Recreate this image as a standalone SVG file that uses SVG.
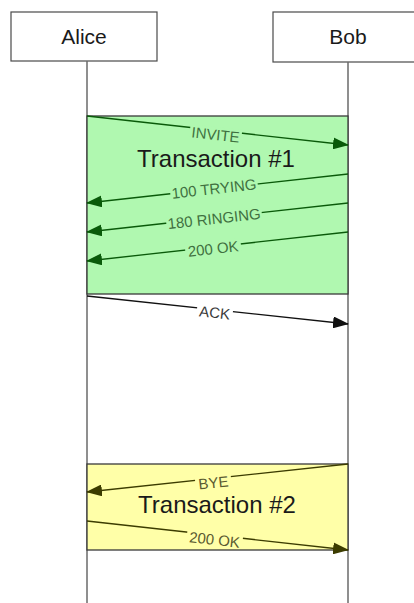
<svg xmlns="http://www.w3.org/2000/svg" width="414" height="603" viewBox="0 0 414 603">
  <style>
    .actor { fill: #ffffff; stroke: #4a4a4a; stroke-width: 1.2; }
    .actor-text { font-family: "Liberation Sans", Arial, sans-serif; font-size: 21px; fill: #1a1a1a; text-anchor: middle; }
    .lifeline { stroke: #6a6a6a; stroke-width: 1.5; fill: none; }
    .txn-box { stroke: #3a3a3a; stroke-width: 1.3; }
    .txn1 { fill: #b0f8b0; }
    .txn2 { fill: #ffffa8; }
    .txn-text { font-family: "Liberation Sans", Arial, sans-serif; font-size: 24px; fill: #1a1a1a; text-anchor: middle; }
    .msg { fill: none; stroke-width: 1.3; }
    .msg-green { stroke: #0a5a0a; }
    .msg-olive { stroke: #3c3c00; }
    .msg-black { stroke: #111111; }
    .label { font-family: "Liberation Sans", Arial, sans-serif; font-size: 15px; text-anchor: middle; }
    .label-green { fill: #3f703f; }
    .label-olive { fill: #5a5a30; }
    .label-black { fill: #3a3a3a; }
  </style>
  <defs>
    <marker id="arrow-green" markerUnits="userSpaceOnUse" markerWidth="16" markerHeight="12" refX="15" refY="6" orient="auto">
      <path d="M0,0 L16,6 L0,12 Z" fill="#0a5a0a"/>
    </marker>
    <marker id="arrow-olive" markerUnits="userSpaceOnUse" markerWidth="16" markerHeight="12" refX="15" refY="6" orient="auto">
      <path d="M0,0 L16,6 L0,12 Z" fill="#3c3c00"/>
    </marker>
    <marker id="arrow-black" markerUnits="userSpaceOnUse" markerWidth="16" markerHeight="12" refX="15" refY="6" orient="auto">
      <path d="M0,0 L16,6 L0,12 Z" fill="#111111"/>
    </marker>
  </defs>

  <rect x="0" y="0" width="414" height="603" fill="#ffffff"/>

  <!-- Participants with their lifelines -->
  <g id="alice">
    <rect class="actor" x="11" y="12" width="146" height="49"/>
    <text class="actor-text" x="84" y="44">Alice</text>
    <line class="lifeline" x1="87" y1="61" x2="87" y2="603"/>
  </g>
  <g id="bob">
    <rect class="actor" x="273" y="12" width="150" height="50"/>
    <text class="actor-text" x="348" y="44">Bob</text>
    <line class="lifeline" x1="348" y1="62" x2="348" y2="603"/>
  </g>

  <!-- Transaction regions -->
  <g id="transaction1">
    <rect class="txn-box txn1" x="87" y="116" width="261" height="178"/>
    <text class="txn-text" x="216" y="167">Transaction #1</text>
  </g>
  <g id="transaction2">
    <rect class="txn-box txn2" x="87" y="464" width="261" height="86"/>
    <text class="txn-text" x="217" y="513">Transaction #2</text>
  </g>

  <!-- Messages -->
  <g id="connectors">
    <g id="msg-invite">
      <line class="msg msg-green" x1="87" y1="116" x2="348" y2="145" marker-end="url(#arrow-green)"/>
      <g transform="translate(216,131) rotate(6.3)">
        <rect x="-26" y="-4" width="52" height="12" fill="#b0f8b0"/>
        <text class="label label-green" x="0" y="9">INVITE</text>
      </g>
    </g>
    <g id="msg-100-trying">
      <line class="msg msg-green" x1="348" y1="174" x2="87" y2="203" marker-end="url(#arrow-green)"/>
      <g transform="translate(214,189) rotate(-6.3)">
        <rect x="-44" y="-6" width="88" height="12" fill="#b0f8b0"/>
        <text class="label label-green" x="0" y="5">100 TRYING</text>
      </g>
    </g>
    <g id="msg-180-ringing">
      <line class="msg msg-green" x1="348" y1="203" x2="87" y2="232" marker-end="url(#arrow-green)"/>
      <g transform="translate(214,218) rotate(-6.3)">
        <rect x="-48" y="-6" width="96" height="12" fill="#b0f8b0"/>
        <text class="label label-green" x="0" y="6">180 RINGING</text>
      </g>
    </g>
    <g id="msg-200-ok-1">
      <line class="msg msg-green" x1="348" y1="232" x2="87" y2="261" marker-end="url(#arrow-green)"/>
      <g transform="translate(213,247) rotate(-6.3)">
        <rect x="-28" y="-6" width="56" height="12" fill="#b0f8b0"/>
        <text class="label label-green" x="0" y="7">200 OK</text>
      </g>
    </g>
    <g id="msg-ack">
      <line class="msg msg-black" x1="87" y1="296" x2="348" y2="324" marker-end="url(#arrow-black)"/>
      <g transform="translate(215,310) rotate(6.3)">
        <rect x="-18" y="-5" width="36" height="12" fill="#ffffff"/>
        <text class="label label-black" x="0" y="8">ACK</text>
      </g>
    </g>
    <g id="msg-bye">
      <line class="msg msg-olive" x1="348" y1="464" x2="87" y2="492" marker-end="url(#arrow-olive)"/>
      <g transform="translate(213,479) rotate(-6.3)">
        <rect x="-18" y="-5" width="36" height="12" fill="#ffffa8"/>
        <text class="label label-olive" x="0" y="9">BYE</text>
      </g>
    </g>
    <g id="msg-200-ok-2">
      <line class="msg msg-olive" x1="87" y1="521" x2="348" y2="550" marker-end="url(#arrow-olive)"/>
      <g transform="translate(215,536) rotate(6.3)">
        <rect x="-28" y="-5" width="56" height="12" fill="#ffffa8"/>
        <text class="label label-olive" x="0" y="9">200 OK</text>
      </g>
    </g>
  </g>
</svg>
